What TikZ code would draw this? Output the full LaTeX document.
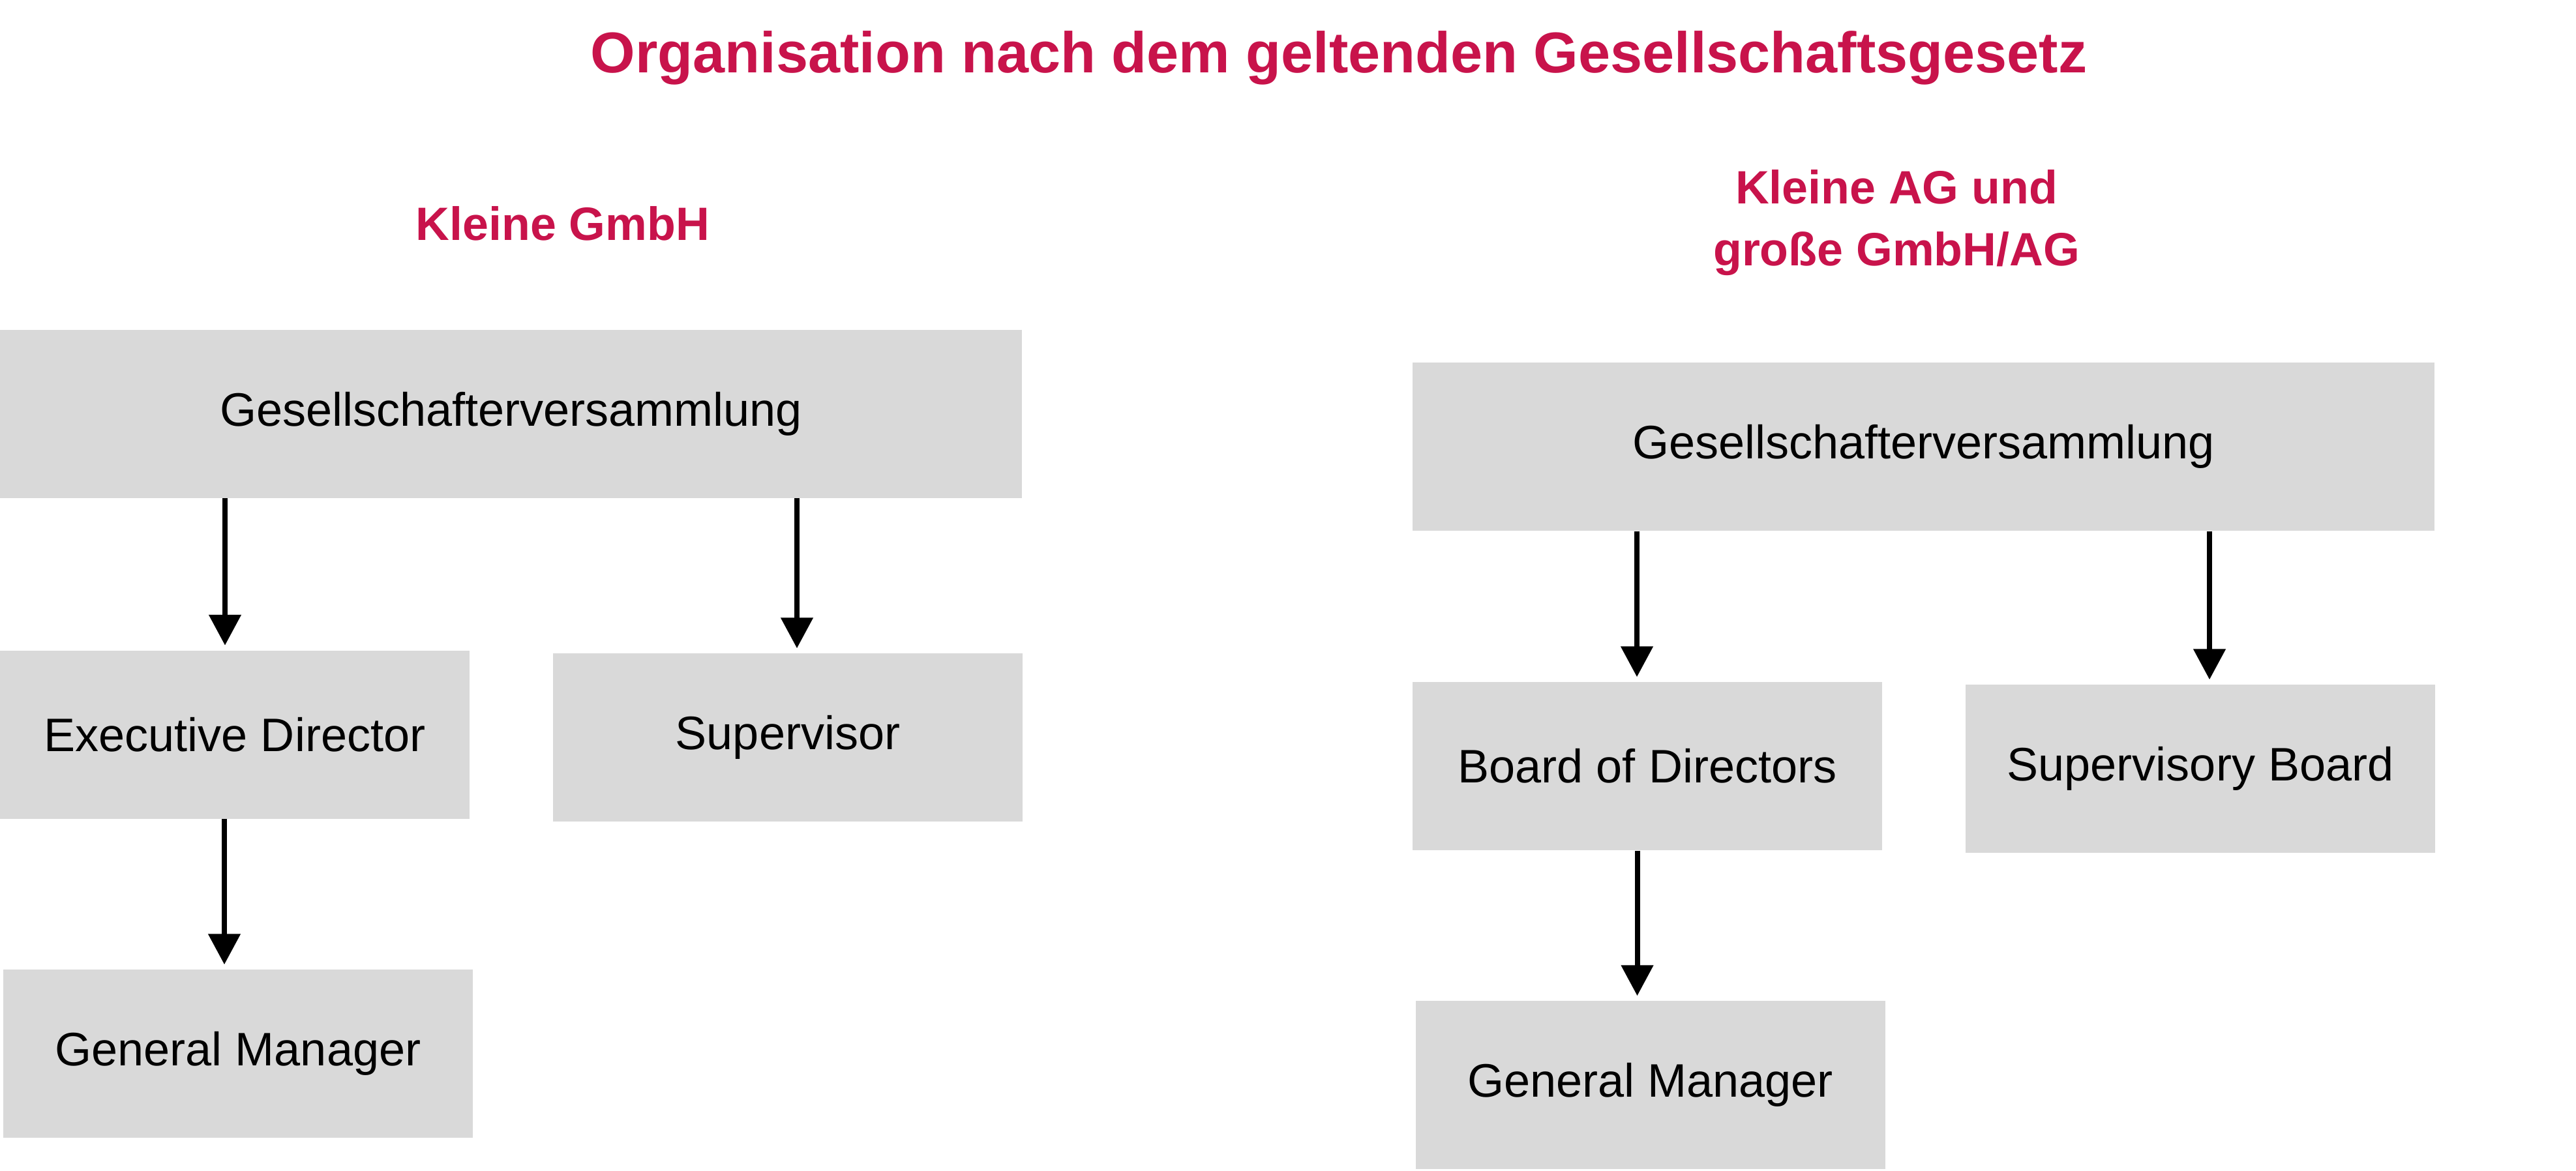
\documentclass[tikz,border=0pt]{standalone}
\usepackage{fontspec}
\setmainfont{Liberation Sans}
\usetikzlibrary{arrows.meta}

\definecolor{orgred}{HTML}{C8134B}
\definecolor{boxgray}{HTML}{D9D9D9}

\begin{document}
\begin{tikzpicture}[
    box/.style={fill=boxgray, inner sep=0pt, minimum width=7.2cm, minimum height=2.58cm,
        font=\fontsize{20.5}{24}\selectfont},
    widebox/.style={box, minimum width=15.67cm},
    heading/.style={text=orgred, anchor=base, align=center,
        font=\fontsize{20.4}{27}\selectfont\bfseries},
    arr/.style={-{Triangle[width=0.48cm,length=0.47cm]}, line width=0.08cm, shorten >=0.07cm}
]

\useasboundingbox (0,0) rectangle (39.5,-17.95);

\node[heading, font=\fontsize{25.1}{30}\selectfont\bfseries] (title) at (20.53,-1.11)
    {Organisation nach dem geltenden Gesellschaftsgesetz};

% kleine GmbH
\node[heading] (labL) at (8.63,-3.68) {Kleine GmbH};

\node[widebox] (gvL) at (7.835,-6.345) {Gesellschafterversammlung};
\node[box] (edL) at (3.60,-11.265) {Executive Director};
\node[box] (supL) at (12.08,-11.31) {Supervisor};
\node[box] (gmL) at (3.65,-16.16) {General Manager};

% kleine AG, grosse GmbH/AG
\node[heading] (labR) at (29.08,-4.07) {Kleine AG und\\große GmbH/AG};

\node[widebox] (gvR) at (29.495,-6.85) {Gesellschafterversammlung};
\node[box] (bodR) at (25.26,-11.75) {Board of Directors};
\node[box] (sbR) at (33.74,-11.79) {Supervisory Board};
\node[box] (gmR) at (25.305,-16.64) {General Manager};

\foreach \from/\to/\dx in {gvL/edL/-1.5, gvL/supL/1.4, edL/gmL/-2.1,
                           gvR/bodR/-1.6, gvR/sbR/1.4, bodR/gmR/-2.0}
    \draw[arr] ([xshift=\dx mm]\to.north |- \from.south) -- ([xshift=\dx mm]\to.north);

\end{tikzpicture}
\end{document}
